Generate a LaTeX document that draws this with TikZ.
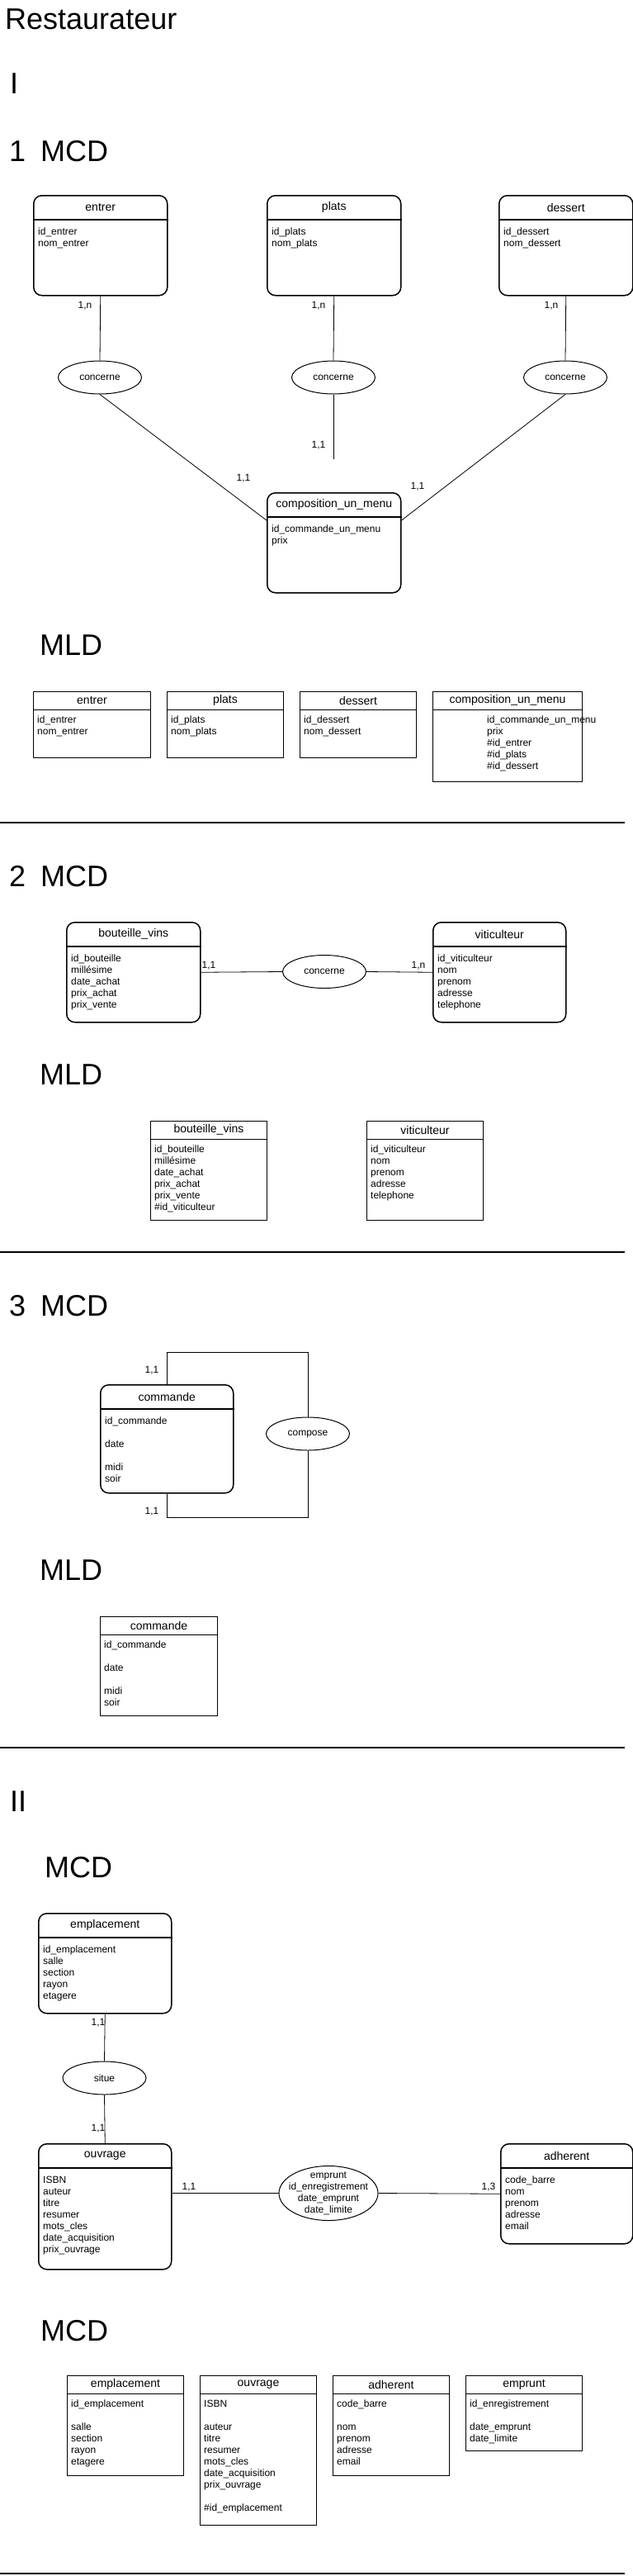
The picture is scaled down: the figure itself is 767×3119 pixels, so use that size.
\documentclass[tikz,border=0pt]{standalone}
\usepackage{fontspec}
\setmainfont{Liberation Sans}
\usetikzlibrary{calc,shapes.geometric}
\tikzset{
  ent/.style={draw, line width=1.5pt, rounded corners=10pt, anchor=north west, inner sep=0pt},
  tbl/.style={draw, line width=1pt, anchor=north west, inner sep=0pt},
  ttl/.style={inner sep=0pt, font=\fontsize{14}{16}\selectfont},
  attr/.style={inner sep=0pt, anchor=north west, align=left, yshift=9.8pt, font=\fontsize{12}{14}\selectfont},
  rel/.style={draw, ellipse, line width=1pt, inner sep=0pt, minimum width=101pt, minimum height=40pt, font=\fontsize{12}{14}\selectfont},
  card/.style={inner sep=0pt, font=\fontsize{12}{14}\selectfont},
  head/.style={inner sep=0pt, anchor=base west, font=\fontsize{36}{43}\selectfont},
  link/.style={line width=0.8pt},
  sepline/.style={line width=1.5pt},
}
% entity (rounded) : name, x, y, w, h, title, attributes
\newcommand{\mkent}[7]{%
  \node[ent, minimum width=#4pt, minimum height=#5pt] (#1) at (#2,#3) {};
  \draw[line width=1.5pt] ($(#1.north west)+(0,30)$) -- ($(#1.north east)+(0,30)$);
  \node[ttl] (#1-t) at ($(#1.north)+(0,15)$) {#6};
  \node[attr] (#1-a) at ($(#1.north west)+(6,48)$) {\strut #7};
}
% table (sharp) : name, x, y, w, h, title, attributes
\newcommand{\mktbl}[7]{%
  \node[tbl, minimum width=#4pt, minimum height=#5pt] (#1) at (#2,#3) {};
  \draw[line width=1pt] ($(#1.north west)+(0,22)$) -- ($(#1.north east)+(0,22)$);
  \node[ttl] (#1-t) at ($(#1.north)+(0,11)$) {#6};
  \node[attr] (#1-a) at ($(#1.north west)+(5,38.5)$) {\strut #7};
}
\begin{document}
\begin{tikzpicture}[x=1pt,y=-1pt]
\path[use as bounding box, fill=white] (0,0) rectangle (767,3119);

% ---------------- Section I ----------------
\node[head] (h-title) at (6,35) {Restaurateur};
\node[head] (h-I) at (12,113) {I};
\node[head] (h-1mcd) at (11,195) {1\hspace{18pt}MCD};

\mkent{entrer}{40}{236}{162}{121}{entrer}{id\_entrer\\nom\_entrer}
\mkent{plats}{323}{236}{162}{121}{plats}{id\_plats\\nom\_plats}
\mkent{dessert}{604}{236}{162}{121}{dessert}{id\_dessert\\nom\_dessert}
\mkent{comp}{323}{596}{162}{121}{composition\_un\_menu}{id\_commande\_un\_menu\\prix}

\node[rel] (c1) at (121,457) {concerne};
\node[rel] (c2) at (404,457) {concerne};
\node[rel] (c3) at (685,457) {concerne};

\coordinate (compL) at ($(comp.north west)+(0,34)$);
\coordinate (compR) at ($(comp.north east)+(0,34)$);
\coordinate (c2end) at (404,556);

\draw[link] (entrer.south) -- (c1.north);
\draw[link] (plats.south) -- (c2.north);
\draw[link] (dessert.south) -- (c3.north);
\draw[link] (c1.south) -- (compL);
\draw[link] (c2.south) -- (c2end);
\draw[link] (c3.south) -- (compR);

\node[card] (k1) at (103,370) {1,n};
\node[card] (k2) at (386,370) {1,n};
\node[card] (k3) at (668,370) {1,n};
\node[card] (k4) at (295,579) {1,1};
\node[card] (k5) at (386,539) {1,1};
\node[card] (k6) at (506,589) {1,1};

\node[head] (h-mld1) at (48,793) {MLD};
\mktbl{tentrer}{40}{837}{142}{80}{entrer}{id\_entrer\\nom\_entrer}
\mktbl{tplats}{202}{837}{141}{80}{plats}{id\_plats\\nom\_plats}
\mktbl{tdessert}{363}{837}{141}{80}{dessert}{id\_dessert\\nom\_dessert}
\node[tbl, minimum width=181pt, minimum height=109pt] (tcomp) at (524,837) {};
\draw[line width=1pt] ($(tcomp.north west)+(0,22)$) -- ($(tcomp.north east)+(0,22)$);
\node[ttl] (tcomp-t) at ($(tcomp.north)+(0,11)$) {composition\_un\_menu};
\node[attr] (tcomp-a) at (590,875) {\strut id\_commande\_un\_menu\\prix\\\#id\_entrer\\\#id\_plats\\\#id\_dessert};

\draw[sepline] (0,996) -- (757,996);

% ---------------- Section 2 ----------------
\node[head] (h-2mcd) at (11,1073) {2\hspace{18pt}MCD};
\mkent{bv}{80}{1116}{162}{121}{bouteille\_vins}{id\_bouteille\\millésime\\date\_achat\\prix\_achat\\prix\_vente}
\mkent{vit}{524}{1116}{161}{121}{viticulteur}{id\_viticulteur\\nom\\prenom\\adresse\\telephone}
\node[rel] (c4) at (393,1176.5) {concerne};
\draw[link] (bv.east) -- (c4.west);
\draw[link] (c4.east) -- (vit.west);
\node[card] (k7) at (253,1169) {1,1};
\node[card] (k8) at (507,1169) {1,n};

\node[head] (h-mld2) at (48,1313) {MLD};
\mktbl{tbv}{182}{1357}{141}{120}{bouteille\_vins}{id\_bouteille\\millésime\\date\_achat\\prix\_achat\\prix\_vente\\\#id\_viticulteur}
\mktbl{tvit}{444}{1357}{141}{120}{viticulteur}{id\_viticulteur\\nom\\prenom\\adresse\\telephone}

\draw[sepline] (0,1516) -- (757,1516);

% ---------------- Section 3 ----------------
\node[head] (h-3mcd) at (11,1593) {3\hspace{18pt}MCD};
\mkent{cmd}{121}{1676}{161}{131}{commande}{id\_commande\\\strut\\date\\\strut\\midi\\soir}
\node[rel] (c5) at (373,1736) {compose};
\draw[link] (cmd.north) -- ++(0,-39) -| (c5.north);
\draw[link] (cmd.south) -- ++(0,29) -| (c5.south);
\node[card] (k9) at (184,1659) {1,1};
\node[card] (k10) at (184,1830) {1,1};

\node[head] (h-mld3) at (48,1913) {MLD};
\mktbl{tcmd}{121}{1957}{142}{120}{commande}{id\_commande\\\strut\\date\\\strut\\midi\\soir}

\draw[sepline] (0,2116) -- (757,2116);

% ---------------- Section II ----------------
\node[head] (h-II) at (12,2193) {II};
\node[head] (h-mcd4) at (54,2273) {MCD};
\mkent{empl}{46}{2316}{161}{121}{emplacement}{id\_emplacement\\salle\\section\\rayon\\etagere}
\mkent{ouv}{46}{2595}{161}{152}{ouvrage}{ISBN\\auteur\\titre\\resumer\\mots\_cles\\date\_acquisition\\prix\_ouvrage}
\mkent{adh}{606}{2595}{160}{121}{adherent}{code\_barre\\nom\\prenom\\adresse\\email}
\node[rel] (c6) at (126.5,2516) {situe};
\draw[link] (empl.south) -- (c6.north);
\draw[link] (c6.south) -- (ouv.north);
\node[draw, ellipse, line width=1pt, inner sep=0pt, minimum width=120pt, minimum height=66pt] (c7) at (398,2655.5) {};
\node[inner sep=0pt, align=center, font=\fontsize{12}{14}\selectfont] (c7-t) at (398,2655.5) {emprunt\\id\_enregistrement\\date\_emprunt\\date\_limite};
\coordinate (ouvR) at ($(ouv.north east)+(0,60.5)$);
\draw[link] (ouvR) -- (c7.west);
\draw[link] (c7.east) -- (adh.west);
\node[card] (k11) at (119,2449) {1,1};
\node[card] (k12) at (119,2577) {1,1};
\node[card] (k13) at (229,2648) {1,1};
\node[card] (k14) at (592,2648) {1,3};

\node[head] (h-mcd5) at (49,2834) {MCD};
\mktbl{templ}{81}{2876}{141}{121}{emplacement}{id\_emplacement\\\strut\\salle\\section\\rayon\\etagere}
\mktbl{touv}{242}{2876}{141}{181}{ouvrage}{ISBN\\\strut\\auteur\\titre\\resumer\\mots\_cles\\date\_acquisition\\prix\_ouvrage\\\strut\\\#id\_emplacement}
\mktbl{tadh}{403}{2876}{141}{121}{adherent}{code\_barre\\\strut\\nom\\prenom\\adresse\\email}
\mktbl{tempr}{564}{2876}{141}{91}{emprunt}{id\_enregistrement\\\strut\\date\_emprunt\\date\_limite}

\draw[sepline] (0,3116) -- (757,3116);
\end{tikzpicture}
\end{document}
